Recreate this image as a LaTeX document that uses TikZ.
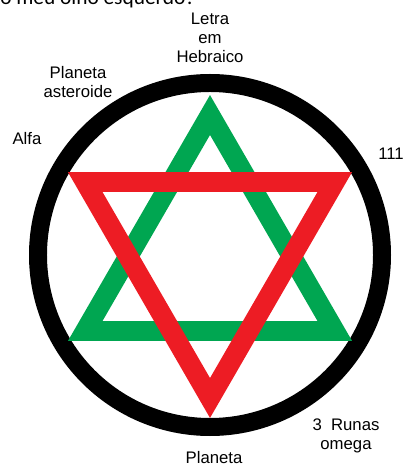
\documentclass[tikz,border=0pt]{standalone}
\usepackage{fontspec}
\setmainfont{Liberation Sans}
\newfontfamily\titlefont{Carlito}
\definecolor{stargreen}{HTML}{00A651}
\definecolor{starred}{HTML}{ED1C24}

\begin{document}
\begin{tikzpicture}[
  every node/.style={font=\fontsize{11.9}{13.5}\selectfont, align=center, inner sep=0pt},
  ring/.style={draw=black, line width=12.8pt},
  up/.style={draw=stargreen, line width=14.2pt, line join=miter},
  down/.style={draw=starred, line width=14.2pt, line join=miter}]

\clip (-5.25, 6.375) rectangle (4.9, -5.325);

% ---------------- ring ----------------
\coordinate (o) at (0, 0);
\draw[ring] (o) circle (4.3);

% ---------------- green triangle (up) ----------------
\coordinate (g1) at (0, 3.5);
\coordinate (g2) at (-3.12, -1.9);
\coordinate (g3) at (3.12, -1.9);
\draw[up] (g1) -- (g2) -- (g3) -- cycle;

% ---------------- red triangle (down) ----------------
\coordinate (r1) at (-3.12, 1.825);
\coordinate (r2) at (3.12, 1.825);
\coordinate (r3) at (0, -3.575);
\draw[down] (r1) -- (r2) -- (r3) -- cycle;

% ---------------- labels ----------------
\node[anchor=base west, font=\titlefont\fontsize{15.2}{18}\selectfont] (titulo) at (-5.25, 6.25) {o meu olho esquerdo?};
\node (hebraico) at (0, 5.425) {Letra\\em\\Hebraico};
\node (asteroide) at (-3.3, 4.325) {Planeta\\asteroide};
\node (alfa) at (-4.575, 2.9) {Alfa};
\node (num) at (4.525, 2.525) {111};
\node (runas) at (3.4, -4.525) {3\ \ Runas\\omega};
\node (planeta) at (0.1, -5.07) {Planeta};
\end{tikzpicture}
\end{document}
